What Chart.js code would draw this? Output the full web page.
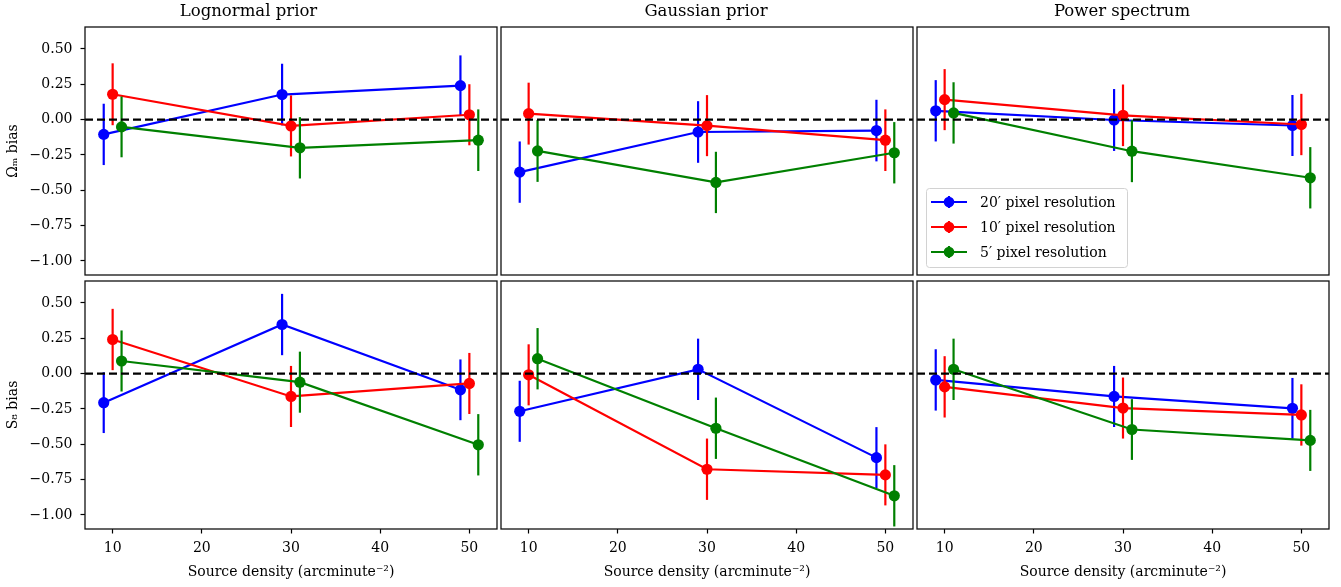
<!DOCTYPE html>
<html><head><meta charset="utf-8">
<script src="https://cdn.jsdelivr.net/npm/chart.js@4.4.1/dist/chart.umd.min.js"></script>
<style>
html,body{margin:0;padding:0;background:#fff;}
#wrap{position:relative;width:1341px;height:587px;overflow:hidden;background:#fff;}
#wrap canvas{position:absolute;}
</style>
</head><body><div id="wrap"></div>
<script>
// ---------- data ----------
const panelTitles = ['Lognormal prior', 'Gaussian prior', 'Power spectrum'];
const rowLabels = ['\u03A9\u2098 bias', 'S\u2088 bias'];
const xTitle = 'Source density (arcminute\u207B\u00B2)';
const seriesLabels = ['20\u2032 pixel resolution', '10\u2032 pixel resolution', '5\u2032 pixel resolution'];
const seriesColors = ['#0000ff', '#ff0000', '#008000'];
const xTicks = [10, 20, 30, 40, 50];
const yTicks = [-1.0, -0.75, -0.5, -0.25, 0, 0.25, 0.5];

const xPos20 = [9, 29, 49];
const xPos10 = [10, 30, 50];
const xPos5  = [11, 31, 51];

// Omega_m bias
const omLogn20 = [-0.105, 0.177, 0.240];  const omLogn20Err = [0.217, 0.218, 0.214];
const omLogn10 = [0.179, -0.045, 0.034];  const omLogn10Err = [0.219, 0.216, 0.216];
const omLogn5  = [-0.052, -0.200, -0.146]; const omLogn5Err = [0.215, 0.217, 0.218];

const omGaus20 = [-0.372, -0.088, -0.078]; const omGaus20Err = [0.217, 0.218, 0.218];
const omGaus10 = [0.042, -0.043, -0.146];  const omGaus10Err = [0.219, 0.216, 0.218];
const omGaus5  = [-0.222, -0.445, -0.235]; const omGaus5Err = [0.219, 0.217, 0.217];

const omPow20 = [0.062, -0.003, -0.042];   const omPow20Err = [0.217, 0.219, 0.216];
const omPow10 = [0.141, 0.030, -0.035];    const omPow10Err = [0.216, 0.218, 0.217];
const omPow5  = [0.047, -0.224, -0.412];   const omPow5Err = [0.217, 0.219, 0.217];

// S8 bias
const s8Logn20 = [-0.206, 0.347, -0.115];  const s8Logn20Err = [0.215, 0.217, 0.215];
const s8Logn10 = [0.241, -0.162, -0.070];  const s8Logn10Err = [0.217, 0.216, 0.216];
const s8Logn5  = [0.089, -0.061, -0.504];  const s8Logn5Err = [0.216, 0.216, 0.217];

const s8Gaus20 = [-0.267, 0.030, -0.595];  const s8Gaus20Err = [0.216, 0.217, 0.216];
const s8Gaus10 = [-0.009, -0.677, -0.717]; const s8Gaus10Err = [0.216, 0.217, 0.216];
const s8Gaus5  = [0.105, -0.387, -0.865];  const s8Gaus5Err = [0.217, 0.217, 0.217];

const s8Pow20 = [-0.045, -0.162, -0.246];  const s8Pow20Err = [0.217, 0.216, 0.215];
const s8Pow10 = [-0.094, -0.244, -0.293];  const s8Pow10Err = [0.217, 0.216, 0.217];
const s8Pow5  = [0.030, -0.396, -0.473];   const s8Pow5Err = [0.217, 0.215, 0.216];

const panels = [
  {row:0, col:0, vals:[omLogn20, omLogn10, omLogn5], errs:[omLogn20Err, omLogn10Err, omLogn5Err]},
  {row:0, col:1, vals:[omGaus20, omGaus10, omGaus5], errs:[omGaus20Err, omGaus10Err, omGaus5Err]},
  {row:0, col:2, vals:[omPow20, omPow10, omPow5], errs:[omPow20Err, omPow10Err, omPow5Err], legend:true},
  {row:1, col:0, vals:[s8Logn20, s8Logn10, s8Logn5], errs:[s8Logn20Err, s8Logn10Err, s8Logn5Err]},
  {row:1, col:1, vals:[s8Gaus20, s8Gaus10, s8Gaus5], errs:[s8Gaus20Err, s8Gaus10Err, s8Gaus5Err]},
  {row:1, col:2, vals:[s8Pow20, s8Pow10, s8Pow5], errs:[s8Pow20Err, s8Pow10Err, s8Pow5Err]},
];
const xPositions = [xPos20, xPos10, xPos5];

// ---------- layout ----------
const FONT = '"DejaVu Serif", "Liberation Serif", serif';
const colBoxes = [ {left:0, width:499, yW:85, rp:2}, {left:499, width:416, yW:2, rp:2}, {left:915, width:426, yW:2, rp:12} ];
const rowBoxes = [ {top:0, height:278, padTop:0, xH:3}, {top:278, height:309, padTop:3, xH:58} ];
const X_MIN = 6.9, X_MAX = 53.1, Y_MIN = -1.1, Y_MAX = 0.655;

const fmtY = v => (v < 0 ? '\u2212' : '') + Math.abs(v).toFixed(2);

const errorBarPlugin = {
  id: 'errorBars',
  beforeDatasetDraw(chart, args) {
    const ds = chart.data.datasets[args.index];
    if (!ds.errors) return;
    const {ctx, chartArea, scales} = chart;
    ctx.save();
    ctx.beginPath(); ctx.rect(chartArea.left, chartArea.top, chartArea.width, chartArea.height); ctx.clip();
    ctx.strokeStyle = ds.borderColor; ctx.lineWidth = 2.2; ctx.lineCap = 'butt';
    ds.data.forEach((p, i) => {
      const px = scales.x.getPixelForValue(p.x);
      ctx.beginPath();
      ctx.moveTo(px, scales.y.getPixelForValue(p.y - ds.errors[i]));
      ctx.lineTo(px, scales.y.getPixelForValue(p.y + ds.errors[i]));
      ctx.stroke();
    });
    ctx.restore();
  }
};

const zeroLineFramePlugin = {
  id: 'zeroFrame',
  afterDatasetsDraw(chart) {
    const {ctx, chartArea, scales} = chart;
    const y0 = scales.y.getPixelForValue(0);
    ctx.save();
    ctx.strokeStyle = '#000'; ctx.lineWidth = 2.2; ctx.setLineDash([8, 4]);
    ctx.beginPath(); ctx.moveTo(chartArea.left, y0); ctx.lineTo(chartArea.right, y0); ctx.stroke();
    ctx.setLineDash([]);
    ctx.lineWidth = 1.3; ctx.strokeStyle = '#111';
    ctx.strokeRect(chartArea.left, chartArea.top, chartArea.width, chartArea.height);
    ctx.restore();
  }
};

const insideLegendPlugin = {
  id: 'insideLegend',
  afterDraw(chart) {
    if (!chart.options.plugins.insideLegend || !chart.options.plugins.insideLegend.show) return;
    const {ctx, chartArea} = chart;
    const bx = chartArea.left + 9, bw = 201, bh = 79, by = chartArea.bottom - 8 - bh;
    ctx.save();
    ctx.beginPath();
    if (ctx.roundRect) ctx.roundRect(bx + 0.5, by + 0.5, bw, bh, 3); else ctx.rect(bx + 0.5, by + 0.5, bw, bh);
    ctx.fillStyle = 'rgba(255,255,255,0.85)'; ctx.fill();
    ctx.strokeStyle = '#d2d2d2'; ctx.lineWidth = 1; ctx.stroke();
    ctx.font = '14px ' + FONT; ctx.textBaseline = 'middle'; ctx.fillStyle = '#000';
    chart.data.datasets.forEach((ds, i) => {
      const cy = by + 14 + i * 25;
      ctx.strokeStyle = ds.borderColor; ctx.lineWidth = 2.2;
      ctx.beginPath(); ctx.moveTo(bx + 5, cy); ctx.lineTo(bx + 41, cy); ctx.stroke();
      ctx.beginPath(); ctx.moveTo(bx + 23, cy - 6); ctx.lineTo(bx + 23, cy + 6); ctx.stroke();
      ctx.fillStyle = ds.borderColor;
      ctx.beginPath(); ctx.arc(bx + 23, cy, 5.3, 0, Math.PI * 2); ctx.fill();
      ctx.fillStyle = '#000';
      ctx.fillText(ds.label, bx + 54, cy + 1);
    });
    ctx.restore();
  }
};

const wrap = document.getElementById('wrap');
panels.forEach(p => {
  const cb = colBoxes[p.col], rb = rowBoxes[p.row];
  const canvas = document.createElement('canvas');
  canvas.width = cb.width; canvas.height = rb.height;
  canvas.style.left = cb.left + 'px'; canvas.style.top = rb.top + 'px';
  canvas.style.width = cb.width + 'px'; canvas.style.height = rb.height + 'px';
  wrap.appendChild(canvas);

  const datasets = seriesLabels.map((lab, s) => ({
    label: lab,
    data: p.vals[s].map((v, i) => ({x: xPositions[s][i], y: v})),
    errors: p.errs[s],
    borderColor: seriesColors[s],
    backgroundColor: seriesColors[s],
    pointBackgroundColor: seriesColors[s],
    pointBorderColor: seriesColors[s],
    pointBorderWidth: 0,
    pointRadius: 5.6,
    borderWidth: 2.2,
    tension: 0,
    order: 3 - s
  }));

  const showXLabels = p.row === 1;
  const showYLabels = p.col === 0;

  new Chart(canvas, {
    type: 'line',
    data: {datasets},
    plugins: [errorBarPlugin, zeroLineFramePlugin, insideLegendPlugin],
    options: {
      responsive: false, animation: false, devicePixelRatio: 1,
      events: [],
      layout: {autoPadding: false, padding: {top: rb.padTop, right: cb.rp, bottom: 0, left: 0}},
      plugins: {
        legend: {display: false}, tooltip: {enabled: false},
        insideLegend: {show: !!p.legend},
        title: {
          display: p.row === 0, text: panelTitles[p.col], color: '#000',
          font: {family: FONT, size: 16.5, weight: 'normal', lineHeight: 1.2},
          padding: {top: 2, bottom: 5.2}
        }
      },
      scales: {
        x: {
          type: 'linear', min: X_MIN, max: X_MAX,
          afterBuildTicks: s => { s.ticks = xTicks.map(v => ({value: v})); },
          afterFit: s => { s.height = rb.xH; s.paddingLeft = 0; s.paddingRight = 0; s.paddingTop = 0; s.paddingBottom = 0; },
          ticks: {display: showXLabels, autoSkip: false, maxRotation: 0, color: '#000', padding: 6,
                  font: {family: FONT, size: 14}, callback: v => String(v)},
          grid: {display: showXLabels, drawOnChartArea: false, drawTicks: true, tickLength: 4.5, tickWidth: 1.2, tickColor: '#000'},
          border: {display: false},
          title: {display: showXLabels, text: xTitle, color: '#000', font: {family: FONT, size: 14, lineHeight: 1.2}, padding: {top: 0, bottom: 6}}
        },
        y: {
          type: 'linear', min: Y_MIN, max: Y_MAX,
          afterBuildTicks: s => { s.ticks = yTicks.map(v => ({value: v})); },
          afterFit: s => { s.width = cb.yW; s.paddingLeft = 0; s.paddingRight = 0; s.paddingTop = 0; s.paddingBottom = 0; },
          ticks: {display: showYLabels, autoSkip: false, color: '#000', padding: 8,
                  font: {family: FONT, size: 14}, callback: v => fmtY(v)},
          grid: {display: showYLabels, drawOnChartArea: false, drawTicks: true, tickLength: 4.5, tickWidth: 1.2, tickColor: '#000'},
          border: {display: false},
          title: {display: showYLabels, text: rowLabels[p.row], color: '#000', font: {family: FONT, size: 14, lineHeight: 1.2}, padding: {top: 5, bottom: 0}}
        }
      }
    }
  });
});
</script>
</body></html>
